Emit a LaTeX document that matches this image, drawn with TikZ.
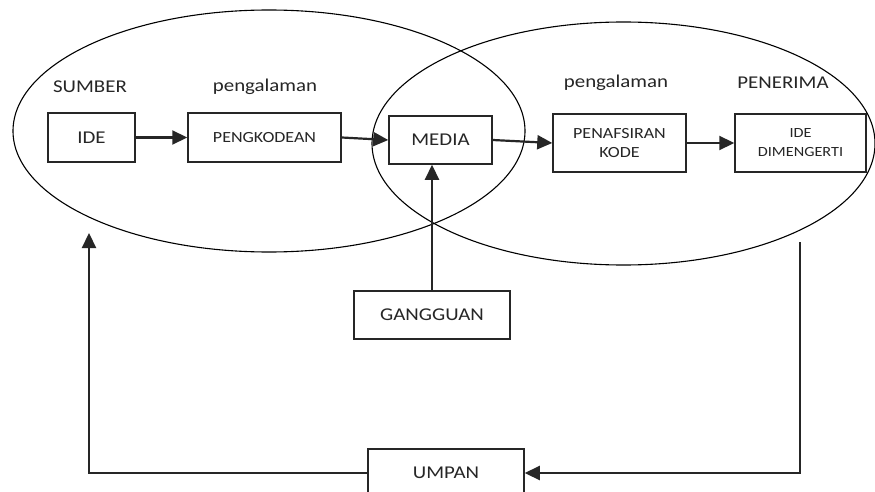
\documentclass[tikz,border=0pt]{standalone}
\usepackage{fontspec}
\setmainfont[FakeStretch=1.16]{Carlito}
\usetikzlibrary{arrows.meta,shapes.geometric}
\definecolor{ink}{HTML}{262626}
\tikzset{
  box/.style={draw=ink, line width=1.5pt, inner sep=0pt, text=ink, align=center},
  big/.style={font=\fontsize{18}{20}\selectfont},
  mid/.style={font=\fontsize{15.5}{19}\selectfont},
  small/.style={font=\fontsize{14}{19}\selectfont},
  lbl/.style={text=ink, inner sep=0pt},
  oval/.style={draw=black, line width=1.1pt, ellipse, inner sep=0pt},
  flow/.style={draw=ink, line width=2.2pt, -{Triangle[length=15pt,width=14pt]}},
}
\begin{document}
\begin{tikzpicture}[x=1pt,y=-1pt]
\useasboundingbox (0,0) rectangle (875,492);
\fill[white] (0,0) rectangle (875,492);
% ellipses
\node[oval, minimum width=512pt, minimum height=242pt] (src) at (269,131) {};
\node[oval, minimum width=503pt, minimum height=243pt] (rcv) at (623.5,143.5) {};
% labels
\node[lbl, big] (sumber) at (90,87) {SUMBER};
\node[lbl, big] (peng1) at (265,87) {pengalaman};
\node[lbl, big] (peng2) at (616,83) {pengalaman};
\node[lbl, big] (penerima) at (783,83) {PENERIMA};
% boxes
\node[box, big, minimum width=87pt, minimum height=49pt] (ide) at (91.5,137.5) {IDE};
\node[box, mid, minimum width=153pt, minimum height=49pt] (kode) at (264.5,137.5) {PENGKODEAN};
\node[box, big, minimum width=103pt, minimum height=48pt] (media) at (440.5,140) {MEDIA};
\node[box, mid, minimum width=133pt, minimum height=58pt] (tafsir) at (619.5,143) {PENAFSIRAN\\KODE};
\node[box, small, minimum width=131pt, minimum height=58pt] (ided) at (800.5,143) {IDE\\DIMENGERTI};
\node[box, big, minimum width=156pt, minimum height=48pt] (ganggu) at (432,315) {GANGGUAN};
\node[box, big, minimum width=156pt, minimum height=48pt] (umpan) at (446,473) {UMPAN};
% coordinates
\coordinate (fbtop) at (800,242);
\coordinate (fbleft) at (89,233);
% connectors
\draw[flow] (ide.east) -- (kode.west);
\draw[flow] (kode.east) -- (media.west);
\draw[flow] (media.east) -- (tafsir.west);
\draw[flow] (tafsir.east) -- (ided.west);
\draw[flow] (ganggu.north) -- (ganggu.north |- media.south);
\draw[flow] (fbtop) |- (umpan.east);
\draw[flow] (umpan.west) -| (fbleft);
\end{tikzpicture}
\end{document}
